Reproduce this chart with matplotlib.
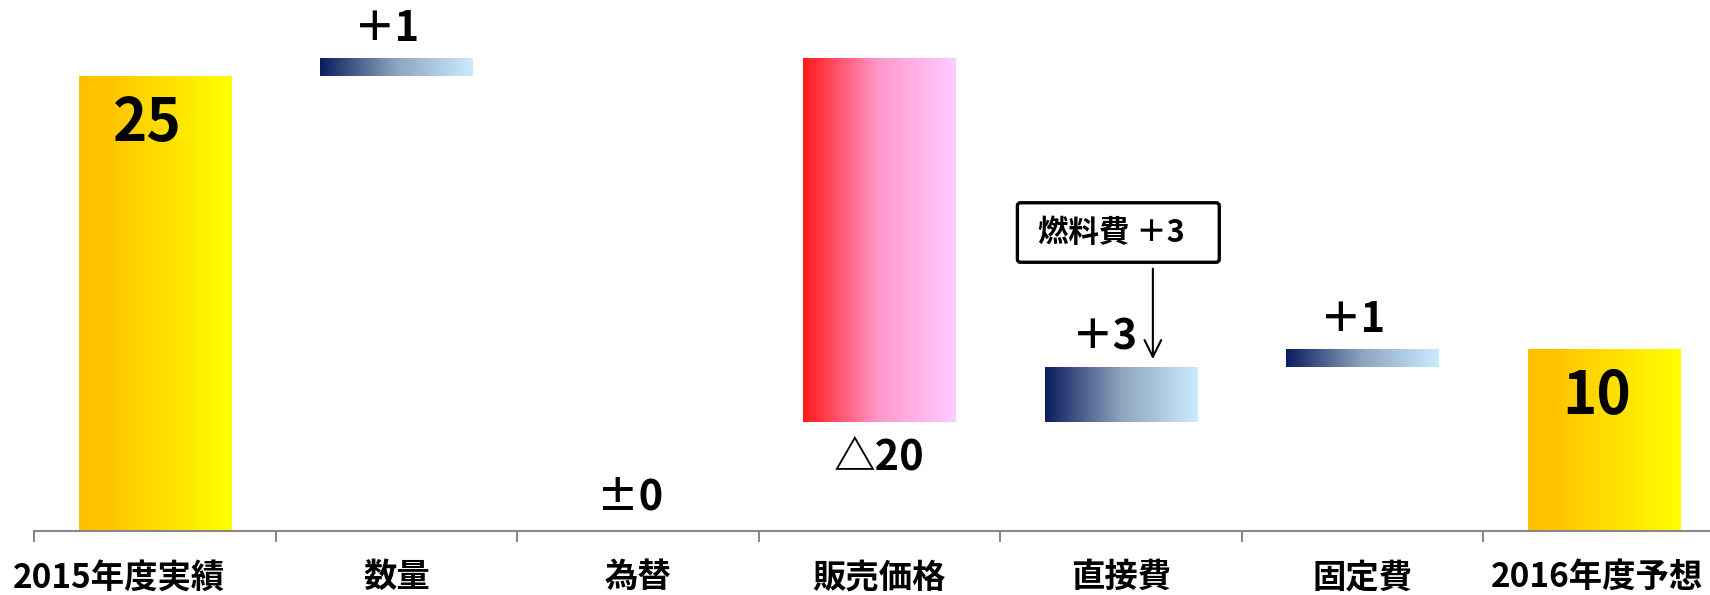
import matplotlib
matplotlib.use("Agg")
import matplotlib.pyplot as plt
import numpy as np
from matplotlib.colors import LinearSegmentedColormap
from matplotlib.transforms import ScaledTranslation

plt.rcParams['font.family'] = ['Noto Sans CJK JP', 'DejaVu Sans']

# data
categories = ['2015年度実績', '数量', '為替', '販売価格', '直接費', '固定費', '2016年度予想']
changes = [25, 1, 0, -20, 3, 1, 10]
kinds = ['total', 'up', 'up', 'down', 'up', 'up', 'total']
labels = ['25', '＋1', '±0', '△20', '＋3', '＋1', '10']

# waterfall bottoms / heights
bottoms = []
heights = []
running = 0
for c, k in zip(changes, kinds):
    if k == 'total':
        bottoms.append(0)
        heights.append(c)
        running = c
    else:
        lo = min(running, running + c)
        bottoms.append(lo)
        heights.append(abs(c))
        running += c

cmaps = {
    'total': LinearSegmentedColormap.from_list('yl', [(0, '#FFC000'), (0.15, '#FFC200'), (1, '#FFFF00')]),
    'up': LinearSegmentedColormap.from_list('bl', ['#0B1D5E', '#8DA5BE', '#CCEBFF']),
    'down': LinearSegmentedColormap.from_list('rd', ['#FF1A1A', '#FF99CC', '#FFCCFF']),
}

fig = plt.figure(figsize=(17.1, 5.95), dpi=100)
# last category boundary runs past the right edge, like the original
ax = fig.add_axes([34 / 1710, 64.3 / 595, 1690.5 / 1710, 530.7 / 595])

x = np.arange(len(categories))
width = 0.63
bars = ax.bar(x, heights, width, bottom=bottoms, color='none', edgecolor='none')

grad = np.linspace(0, 1, 256).reshape(1, -1)
for b, k in zip(bars, kinds):
    if b.get_height() == 0:
        continue
    x0 = b.get_x()
    y0 = b.get_y()
    im = ax.imshow(grad, cmap=cmaps[k], aspect='auto', interpolation='bicubic',
                   extent=[x0, x0 + b.get_width(), y0, y0 + b.get_height()], zorder=2)
    im.set_clip_path(b)

# value labels
big = dict(fontsize=42, fontweight='bold', ha='center', va='center')
mid = dict(fontsize=30, fontweight='bold', ha='center', va='center')
for i, (lab, k) in enumerate(zip(labels, kinds)):
    top = bottoms[i] + heights[i]
    if k == 'total':
        ax.text(i - 0.03, top - 2.65, lab, zorder=3, **big)
    elif k == 'down':
        ax.text(i, bottoms[i] - 1.95, lab, zorder=3, **mid)
    elif heights[i] == 0:
        ax.text(i - 0.03, 1.8, lab, zorder=3, **mid)
    else:
        dx = -0.065 if i == 4 else -0.04
        ax.text(i + dx, top + 1.6, lab, zorder=3, **mid)

# fuel cost callout
ax.text(3.99, 16.39, ' 燃料費 ＋3   ', fontsize=22, fontweight='bold', ha='center', va='center',
        bbox=dict(boxstyle='round,pad=0.45,rounding_size=0.1', fc='white', ec='black', lw=2.4))
ax.annotate('', xy=(4.133, 9.28), xytext=(4.133, 14.56),
            arrowprops=dict(arrowstyle='->', lw=1.5, color='black', mutation_scale=30))

ax.set_xlim(-0.5, len(categories) - 0.5)
ax.set_ylim(0, 29.17)
ax.set_yticks([])
ax.set_xticks(x)
ax.set_xticklabels(categories, fontsize=24, fontweight='bold')
ax.tick_params(axis='x', which='major', length=0, pad=22)
ax.set_xticks(np.arange(len(categories) + 1) - 0.5, minor=True)
ax.tick_params(axis='x', which='minor', length=8, width=1.5, color='#888888', direction='out')
for s in ['top', 'right', 'left']:
    ax.spines[s].set_visible(False)
ax.spines['bottom'].set_color('#888888')
ax.spines['bottom'].set_linewidth(1.5)

# first / last labels sit a little left of centre in the original
tl = ax.get_xticklabels()
tl[0].set_transform(tl[0].get_transform() + ScaledTranslation(-0.36, 0, fig.dpi_scale_trans))
tl[-1].set_transform(tl[-1].get_transform() + ScaledTranslation(-0.07, 0, fig.dpi_scale_trans))

fig.savefig('out.png', dpi=100)
